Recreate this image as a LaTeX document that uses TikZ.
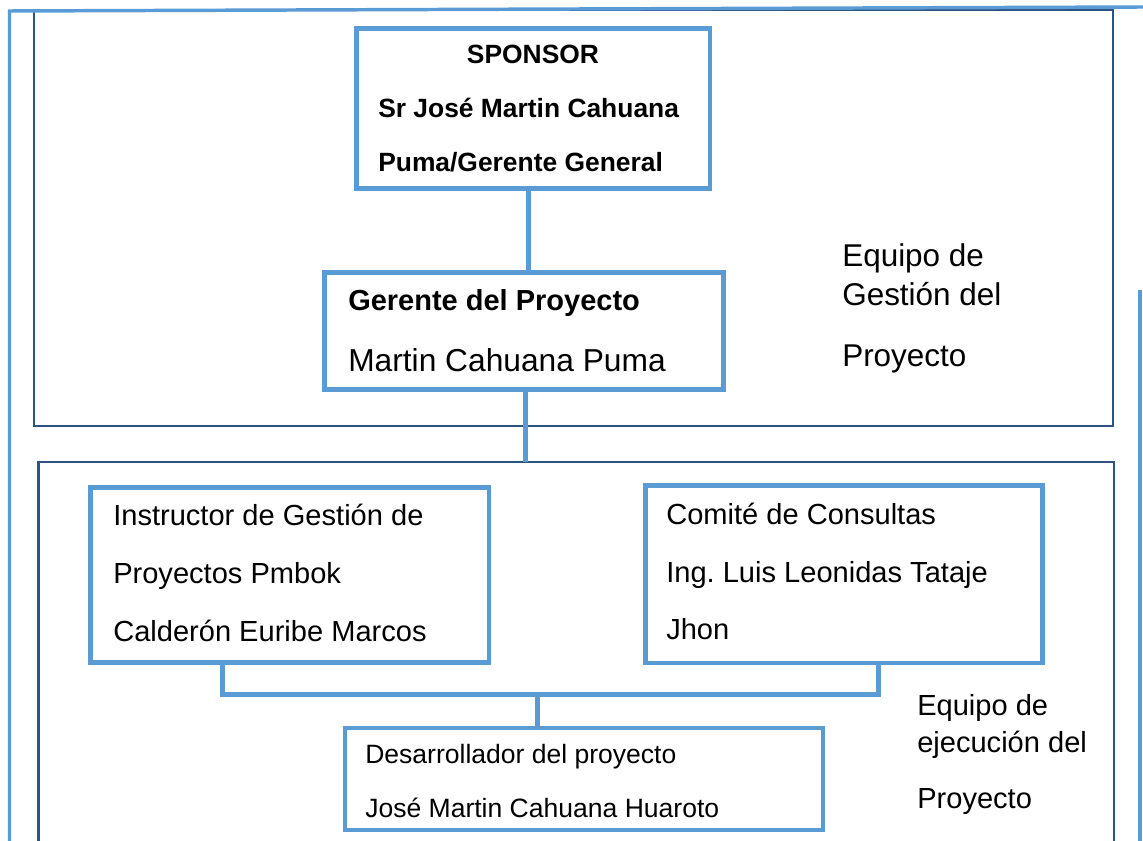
\documentclass[tikz,border=0pt]{standalone}
\usepackage{fontspec}
\setmainfont{Liberation Sans}
\frenchspacing
\definecolor{lblue}{HTML}{5B9BD5}
\definecolor{dblue}{HTML}{2B5580}
\begin{document}
\begin{tikzpicture}[x=0.75pt,y=-0.75pt,
  frame/.style={draw=lblue, line width=2.6pt},
  group/.style={draw=dblue, line width=1.7pt},
  orgbox/.style={draw=lblue, line width=3.4pt, inner sep=0pt, rectangle},
  link/.style={draw=lblue, line width=3.75pt},
  txt/.style={anchor=base west, inner sep=0pt},
  fS/.style={font=\bfseries\fontsize{19.8pt}{24pt}\selectfont},
  fG/.style={font=\bfseries\fontsize{21.75pt}{26pt}\selectfont},
  fM/.style={font=\fontsize{23.8pt}{28pt}\selectfont},
  fE/.style={font=\fontsize{23.6pt}{28pt}\selectfont},
  fI/.style={font=\fontsize{21.8pt}{26pt}\selectfont},
  fD/.style={font=\fontsize{19.9pt}{24pt}\selectfont}]
\useasboundingbox (0,0) rectangle (1143,841);

% team groups
\draw[group] (34,10) rectangle (1113,426);
\draw[group] (38.5,841) -- (38.5,462) -- (1114,462) -- (1114,841);

% outer frame
\draw[frame] (9.5,841) -- (9.5,11) -- (1143,7);
\draw[frame] (1140,290) -- (1140,841);

% boxes
\node[orgbox, minimum width={353.5*0.75pt}, minimum height={160*0.75pt}] (sponsor) at (533.25,108.5) {};
\node[orgbox, line width=3.75pt, minimum width={399*0.75pt}, minimum height={117*0.75pt}] (gerente) at (523.5,331.5) {};
\node[orgbox, minimum width={398.5*0.75pt}, minimum height={175*0.75pt}] (instructor) at (289.75,575) {};
\node[orgbox, minimum width={397*0.75pt}, minimum height={177.5*0.75pt}] (comite) at (844,574.25) {};
\node[orgbox, minimum width={478*0.75pt}, minimum height={102*0.75pt}] (desarrollador) at (584,779) {};

% connector positions
\coordinate (c1) at (528,0);
\coordinate (lowtop) at (525,462);
\coordinate (jl) at (222.5,694);
\coordinate (jr) at (878.5,694);
\coordinate (jm) at (537.5,694);

\draw[link] (sponsor.south -| c1) -- (gerente.north -| c1);
\draw[link] (gerente.south -| lowtop) -- (lowtop);
\draw[link] (instructor.south -| jl) -- (jl) -- (jr) -- (comite.south -| jr);
\draw[link] (jm) -- (desarrollador.north -| jm);

% texts
\node[fS, anchor=base, inner sep=0pt] (s1) at (533,64) {SPONSOR};
\node[txt, fS] (s2) at (378,118) {Sr José Martin Cahuana};
\node[txt, fS] (s3) at (378,172) {Puma/Gerente General};

\node[txt, fG] (g1) at (348,311) {Gerente del Proyecto};
\node[txt, fM] (g2) at (348,372) {Martin Cahuana Puma};

\node[txt, fE] (e1) at (842,267) {Equipo de};
\node[txt, fE] (e2) at (842,306) {Gestión del};
\node[txt, fE] (e3) at (842,367) {Proyecto};

\node[txt, fI] (i1) at (113,526) {Instructor de Gestión de};
\node[txt, fI] (i2) at (113,583) {Proyectos Pmbok};
\node[txt, fI] (i3) at (113,641) {Calderón Euribe Marcos};

\node[txt, fI] (k1) at (666,524) {Comité de Consultas};
\node[txt, fI] (k2) at (666,582) {Ing.\ Luis Leonidas Tataje};
\node[txt, fI] (k3) at (666,639) {Jhon};

\node[txt, fD] (d1) at (365,763) {Desarrollador del proyecto};
\node[txt, fD] (d2) at (365,817) {José Martin Cahuana Huaroto};

\node[txt, fI] (x1) at (917,715) {Equipo de};
\node[txt, fI] (x2) at (917,752) {ejecución del};
\node[txt, fI] (x3) at (917,808) {Proyecto};
\end{tikzpicture}
\end{document}
